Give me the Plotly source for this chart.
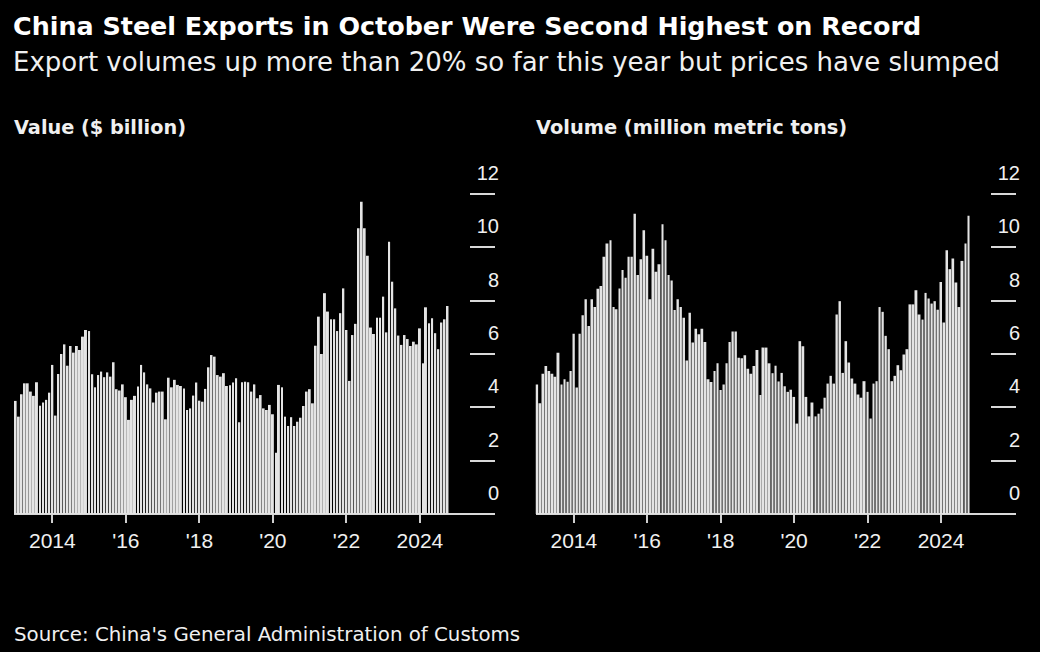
import plotly.graph_objects as go
import pandas as pd

months = pd.date_range("2013-01-01", "2024-10-01", freq="MS").strftime("%Y-%m-%d").tolist()

value_bn = [
    4.24, 3.65, 4.49, 4.90, 4.90, 4.59, 4.43, 4.94, 4.06, 4.18, 4.28, 4.55,
    5.59, 3.69, 5.25, 6.00, 6.36, 5.56, 6.30, 6.05, 6.30, 6.15, 6.65, 6.90,
    6.86, 5.24, 4.75, 5.21, 5.34, 5.13, 5.31, 5.15, 5.69, 4.68, 4.63, 4.86,
    4.38, 3.53, 4.28, 4.43, 4.78, 5.59, 5.31, 4.86, 4.71, 4.18, 4.55, 4.59,
    4.59, 3.55, 5.11, 4.75, 5.03, 4.84, 4.80, 4.71, 3.90, 3.96, 4.44, 4.93,
    4.25, 4.21, 4.69, 5.50, 5.96, 5.90, 5.21, 5.15, 5.28, 4.80, 4.83, 4.93,
    5.09, 3.44, 4.94, 4.96, 4.94, 4.59, 4.86, 4.34, 4.46, 3.96, 3.90, 4.09,
    3.74, 2.30, 4.84, 4.75, 3.65, 3.30, 3.63, 3.30, 3.46, 3.61, 4.05, 4.59,
    4.68, 4.15, 6.31, 7.40, 6.00, 8.28, 7.59, 7.30, 7.30, 6.86, 7.53, 8.46,
    6.90, 4.99, 6.71, 7.13, 10.71, 11.71, 10.71, 9.68, 6.99, 6.75, 7.36, 7.36,
    8.15, 6.81, 10.21, 8.71, 7.71, 6.69, 6.34, 6.71, 6.56, 6.30, 6.46, 6.36,
    6.96, 5.65, 7.75, 7.15, 7.34, 6.78, 6.18, 7.18, 7.30, 7.80,
]

volume_mt = [
    4.86, 4.15, 5.26, 5.55, 5.36, 5.26, 5.15, 6.05, 4.86, 5.05, 4.96, 5.36,
    6.76, 4.74, 6.76, 7.45, 8.05, 7.05, 8.05, 7.76, 8.45, 8.55, 9.65, 10.14,
    10.26, 7.76, 7.68, 8.46, 9.15, 8.86, 9.65, 9.65, 11.26, 8.96, 9.55, 10.64,
    9.68, 8.05, 9.95, 9.08, 9.36, 10.86, 10.26, 8.96, 8.76, 7.65, 8.05, 7.76,
    7.36, 5.76, 7.55, 6.43, 6.95, 6.74, 6.95, 6.45, 5.05, 4.95, 5.36, 5.65,
    4.65, 4.86, 5.65, 6.45, 6.84, 6.84, 5.86, 5.84, 5.95, 5.45, 5.26, 5.55,
    6.15, 4.46, 6.24, 6.24, 5.65, 5.28, 5.56, 4.97, 5.29, 4.79, 4.58, 4.66,
    4.39, 3.39, 6.48, 6.29, 4.39, 3.66, 4.18, 3.66, 3.76, 3.95, 4.36, 4.89,
    5.18, 4.89, 7.48, 7.98, 5.29, 6.48, 5.68, 5.08, 4.89, 4.48, 4.36, 4.98,
    4.58, 3.58, 4.89, 4.98, 7.76, 7.58, 6.68, 6.18, 4.98, 5.18, 5.58, 5.39,
    5.98, 6.18, 7.86, 7.86, 8.39, 7.48, 7.29, 8.29, 8.08, 7.89, 7.98, 7.66,
    8.70, 7.18, 9.89, 9.18, 9.58, 8.68, 7.76, 9.49, 10.14, 11.18,
]

x_tick_vals = ["2014-01-01", "2016-01-01", "2018-01-01", "2020-01-01", "2022-01-01", "2024-01-01"]
x_tick_text = ["2014", "'16", "'18", "'20", "'22", "2024"]
y_tick_vals = [0, 2, 4, 6, 8, 10, 12]

title = "China Steel Exports in October Were Second Highest on Record"
subtitle = "Export volumes up more than 20% so far this year but prices have slumped"
panel_titles = ["Value ($ billion)", "Volume (million metric tons)"]
source = "Source: China's General Administration of Customs"

W, H = 1040, 652
FONT = "DejaVu Sans"
TICKFONT = "Liberation Sans"
BAR = "#e4e4e4"
TXT = "#f0f0f0"

def px(x):
    return x / W

def py(y):
    return 1 - y / H

fig = go.Figure()
fig.add_trace(go.Bar(x=months, y=value_bn, marker=dict(color=BAR, line=dict(width=0)),
                     xaxis="x", yaxis="y", hoverinfo="x+y"))
fig.add_trace(go.Bar(x=months, y=volume_mt, marker=dict(color=BAR, line=dict(width=0)),
                     xaxis="x2", yaxis="y2", hoverinfo="x+y"))

xr = ["2012-12-16", "2026-01-16"]
ydom = [py(514), py(514 - 13.5 * 26.67)]

def xaxis(dom, anchor):
    return dict(domain=dom, anchor=anchor, type="date", range=xr, showgrid=False,
                zeroline=False, showline=False, ticks="outside", ticklen=8, tickwidth=2,
                tickcolor="#cfcfcf", tickvals=x_tick_vals, ticktext=x_tick_text,
                tickfont=dict(family=TICKFONT, size=21, color=TXT), fixedrange=True)

def yaxis(anchor):
    return dict(domain=ydom, anchor=anchor, side="right", range=[0, 13.5], showgrid=False,
                zeroline=True, zerolinecolor="#d8d8d8", zerolinewidth=2, showline=False,
                ticks="inside", ticklen=25, tickwidth=2, tickcolor="#d8d8d8",
                tickvals=y_tick_vals, ticklabelposition="inside",
                ticklabelshift=-21, ticklabelstandoff=-28,
                tickfont=dict(family=TICKFONT, size=20, color=TXT), fixedrange=True)

fig.update_layout(
    width=W, height=H, paper_bgcolor="black", plot_bgcolor="black",
    margin=dict(l=0, r=0, t=0, b=0), showlegend=False, bargap=0.3,
    xaxis=xaxis([px(14), px(495)], "y"),
    yaxis=yaxis("x"),
    xaxis2=xaxis([px(535.5), px(1016)], "y2"),
    yaxis2=yaxis("x2"),
)

def note(text, x, y, size, bold=False, color=TXT):
    fig.add_annotation(text=f"<b>{text}</b>" if bold else text, x=px(x), y=py(y),
                       xref="paper", yref="paper", xanchor="left", yanchor="middle",
                       showarrow=False, font=dict(family=FONT, size=size, color=color))

note(title, 11, 26, 25.4, bold=True, color="#ffffff")
note(subtitle, 11, 62, 26)
note(panel_titles[0], 12, 128, 19.3, bold=True)
note(panel_titles[1], 534, 128, 19.4, bold=True)
note(source, 12, 634, 19.8)

fig.write_html("out.html", config={"displayModeBar": False},
               post_script="document.body.style.margin='0';document.body.style.padding='0';"
                           "document.body.style.overflow='hidden';document.body.style.background='black';")
